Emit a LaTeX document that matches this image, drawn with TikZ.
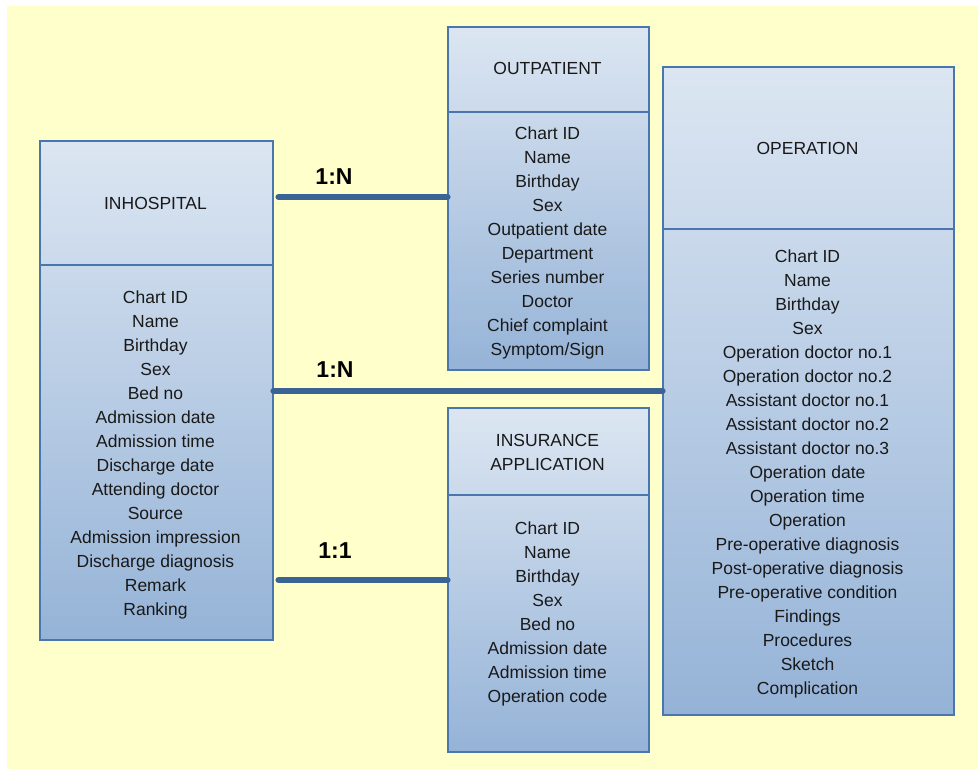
\documentclass[tikz,border=0pt]{standalone}
\usepackage{fontspec}
\setmainfont{Liberation Sans}
\definecolor{bgyellow}{HTML}{FFFFCC}
\definecolor{boxtop}{HTML}{DCE6F2}
\definecolor{boxbot}{HTML}{95B3D7}
\definecolor{boxline}{HTML}{4A76AE}
\definecolor{connblue}{HTML}{3A6496}
\tikzset{
  ent/.style={draw=boxline, line width=1.3pt, rectangle, inner sep=0pt, top color=boxtop, bottom color=boxbot},
  divider/.style={draw=boxline, line width=1.1pt},
  ftxt/.style={font=\fontsize{17.5}{24}\selectfont, align=center, inner sep=0pt, text=black!90},
  conn/.style={draw=connblue, line width=6.5pt, line cap=round},
  card/.style={font=\fontsize{23}{26}\selectfont\bfseries, inner sep=0pt},
}
\begin{document}
\begin{tikzpicture}[x=1pt,y=-1pt]
\useasboundingbox (0,0) rectangle (978,769);
\fill[bgyellow] (7,6) rectangle (978,769);

% entities
\node[ent, minimum width=233pt, minimum height=499pt] (inh) at (156.5,390.5) {};
\node[ent, minimum width=201pt, minimum height=343pt] (outp) at (548.5,198.5) {};
\node[ent, minimum width=291pt, minimum height=648pt] (oper) at (808.5,391) {};
\node[ent, minimum width=201pt, minimum height=344pt] (ins) at (548.5,580) {};

% dividers
\draw[divider] (inh.west |- 0,265) -- (inh.east |- 0,265);
\draw[divider] (outp.west |- 0,112) -- (outp.east |- 0,112);
\draw[divider] (oper.west |- 0,229) -- (oper.east |- 0,229);
\draw[divider] (ins.west |- 0,495) -- (ins.east |- 0,495);

% headers
\node[ftxt] (inhH) at (155.5,203) {INHOSPITAL};
\node[ftxt] (outpH) at (547.5,68) {OUTPATIENT};
\node[ftxt] (operH) at (807.5,148) {OPERATION};
\node[ftxt] (insH) at (547.5,452) {INSURANCE\\APPLICATION};

% bodies
\node[ftxt] (inhB) at (155.5,455) {Chart ID\\Name\\Birthday\\Sex\\Bed no\\Admission date\\Admission time\\Discharge date\\Attending doctor\\Source\\Admission impression\\Discharge diagnosis\\Remark\\Ranking};
\node[ftxt] (outpB) at (547.5,243) {Chart ID\\Name\\Birthday\\Sex\\Outpatient date\\Department\\Series number\\Doctor\\Chief complaint\\Symptom/Sign};
\node[ftxt] (operB) at (807.5,474) {Chart ID\\Name\\Birthday\\Sex\\Operation doctor no.1\\Operation doctor no.2\\Assistant doctor no.1\\Assistant doctor no.2\\Assistant doctor no.3\\Operation date\\Operation time\\Operation\\Pre-operative diagnosis\\Post-operative diagnosis\\Pre-operative condition\\Findings\\Procedures\\Sketch\\Complication};
\node[ftxt] (insB) at (547.5,614) {Chart ID\\Name\\Birthday\\Sex\\Bed no\\Admission date\\Admission time\\Operation code};

% connectors
\draw[conn] ([xshift=5pt]inh.east |- 0,197) -- (outp.west |- 0,197);
\draw[conn] (inh.east |- 0,391) -- (oper.west |- 0,391);
\draw[conn] ([xshift=5pt]inh.east |- 0,580) -- (ins.west |- 0,580);

% cardinalities
\node[card] (c1) at (334,177) {1:N};
\node[card] (c2) at (335,370) {1:N};
\node[card] (c3) at (335,551) {1:1};
\end{tikzpicture}
\end{document}
